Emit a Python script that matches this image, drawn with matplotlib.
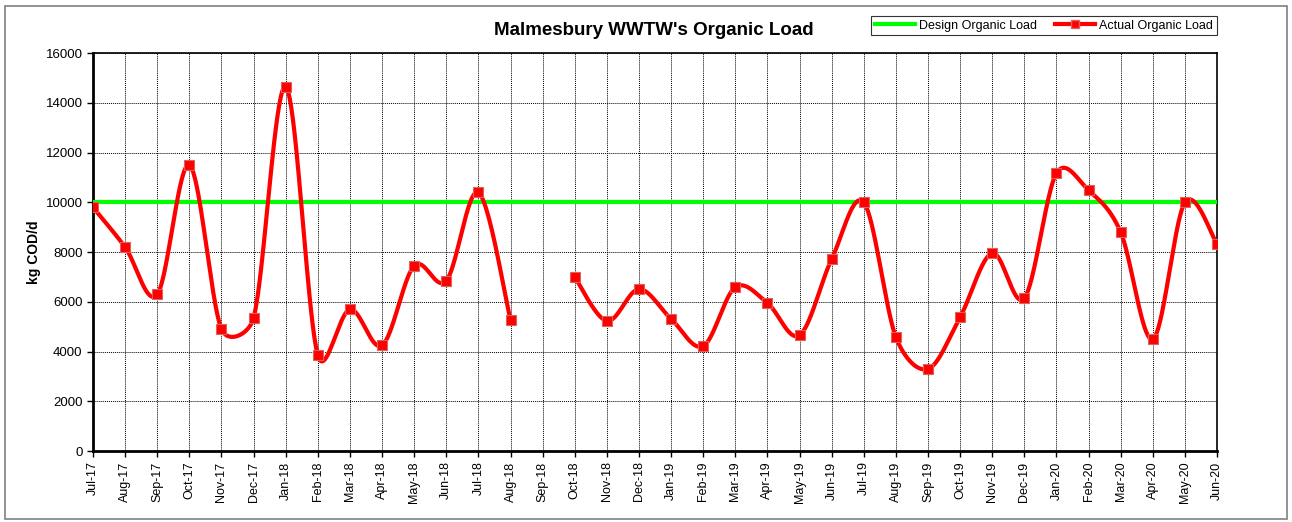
import numpy as np
import matplotlib.pyplot as plt
from matplotlib.patches import Rectangle
from matplotlib.lines import Line2D

plt.rcParams["font.family"] = ["Liberation Sans", "DejaVu Sans"]

MONTHS = [
    "Jul-17", "Aug-17", "Sep-17", "Oct-17", "Nov-17", "Dec-17",
    "Jan-18", "Feb-18", "Mar-18", "Apr-18", "May-18", "Jun-18",
    "Jul-18", "Aug-18", "Sep-18", "Oct-18", "Nov-18", "Dec-18",
    "Jan-19", "Feb-19", "Mar-19", "Apr-19", "May-19", "Jun-19",
    "Jul-19", "Aug-19", "Sep-19", "Oct-19", "Nov-19", "Dec-19",
    "Jan-20", "Feb-20", "Mar-20", "Apr-20", "May-20", "Jun-20",
]
ACTUAL_LOAD = [
    9800, 8200, 6300, 11500, 4900, 5350,
    14650, 3850, 5700, 4250, 7450, 6850,
    10400, 5270, np.nan, 7000, 5230, 6510,
    5310, 4220, 6590, 5950, 4660, 7720,
    10000, 4580, 3300, 5390, 7960, 6150,
    11180, 10490, 8800, 4500, 10000, 8320,
]
DESIGN_LOAD = [10000] * len(MONTHS)

# approx screen scale (px per x unit, px per y unit), used to limit the spline handles
SX, SY = 32.1, 0.024875
CAP = 0.5


def handle(dx, dy, seg_len):
    # Catmull-Rom handle, shortened when it is long compared with the segment
    hx, hy = dx / 6, dy / 6
    L = np.hypot(hx * SX, hy * SY)
    lim = seg_len * CAP
    if L > lim > 0:
        hx, hy = hx * lim / L, hy * lim / L
    return hx, hy


def smooth_segment(xs, ys, n=40):
    xs = np.asarray(xs, dtype=float)
    ys = np.asarray(ys, dtype=float)
    m = len(xs)
    if m < 2:
        return xs, ys
    px, py = [], []
    for i in range(m - 1):
        i0, i1, i2, i3 = max(i - 1, 0), i, i + 1, min(i + 2, m - 1)
        d12 = np.hypot((xs[i2] - xs[i1]) * SX, (ys[i2] - ys[i1]) * SY)
        h1x, h1y = handle(xs[i2] - xs[i0], ys[i2] - ys[i0], d12)
        h2x, h2y = handle(xs[i3] - xs[i1], ys[i3] - ys[i1], d12)
        c1x, c1y = xs[i1] + h1x, ys[i1] + h1y
        c2x, c2y = xs[i2] - h2x, ys[i2] - h2y
        t = np.linspace(0, 1, n)
        bx = (1 - t) ** 3 * xs[i1] + 3 * (1 - t) ** 2 * t * c1x + 3 * (1 - t) * t ** 2 * c2x + t ** 3 * xs[i2]
        by = (1 - t) ** 3 * ys[i1] + 3 * (1 - t) ** 2 * t * c1y + 3 * (1 - t) * t ** 2 * c2y + t ** 3 * ys[i2]
        px.extend(bx)
        py.extend(by)
    return np.array(px), np.array(py)


x = np.arange(len(MONTHS))
y = np.array(ACTUAL_LOAD, dtype=float)

fig = plt.figure(figsize=(12.92, 5.22), dpi=100)
ax = fig.add_axes([0.072, 0.136, 0.870, 0.762])

ax.plot(x, DESIGN_LOAD, color="#00ff00", linewidth=3, zorder=3)

# split at gaps, draw a smooth curve for each run
valid = ~np.isnan(y)
runs, cur = [], []
for i in range(len(x)):
    if valid[i]:
        cur.append(i)
    elif cur:
        runs.append(cur)
        cur = []
if cur:
    runs.append(cur)
for run in runs:
    sx, sy = smooth_segment(x[run], y[run])
    ax.plot(sx, sy, color="#ff0000", linewidth=3, zorder=4, solid_capstyle="round")
ax.plot(x[valid], y[valid], linestyle="none", marker="s", markersize=7,
        markerfacecolor="#ff0000", markeredgecolor="#e06060", markeredgewidth=0.8, zorder=5)

ax.set_xlim(0, len(MONTHS) - 1)
ax.set_ylim(0, 16000)
ax.set_yticks(range(0, 16001, 2000))
ax.set_xticks(x)
ax.set_xticklabels(MONTHS, rotation=90, fontsize=9)
ax.tick_params(axis="y", labelsize=9.5, direction="out", length=4, width=1)
ax.tick_params(axis="x", direction="out", length=4, width=1)
ax.grid(True, color="black", linestyle=(0, (1, 1)), linewidth=0.7)
ax.set_axisbelow(True)
for side in ["left", "bottom"]:
    ax.spines[side].set_linewidth(2)
for side in ["top", "right"]:
    ax.spines[side].set_linewidth(1.2)

ax.set_ylabel("kg COD/d", fontsize=10, fontweight="bold", labelpad=3)
fig.text(0.506, 0.942, "Malmesbury WWTW's Organic Load", ha="center", va="center",
         fontsize=13.5, fontweight="bold")

handles = [
    Line2D([], [], color="#00ff00", linewidth=3),
    Line2D([], [], color="#ff0000", linewidth=3, marker="s", markersize=6,
           markerfacecolor="#ff0000", markeredgecolor="#e06060"),
]
leg = fig.legend(handles, ["Design Organic Load", "Actual Organic Load"],
                 loc="center", bbox_to_anchor=(0.808, 0.951), ncol=2, fontsize=9,
                 frameon=True, fancybox=False, edgecolor="black", handlelength=3.2,
                 handletextpad=0.3, columnspacing=1.5, borderpad=0.3)
leg.get_frame().set_linewidth(0.8)

fig.patches.append(Rectangle((0.004, 0.006), 0.992, 0.982, transform=fig.transFigure,
                             fill=False, edgecolor="#808080", linewidth=1.2))

fig.savefig("out.png", dpi=100)
